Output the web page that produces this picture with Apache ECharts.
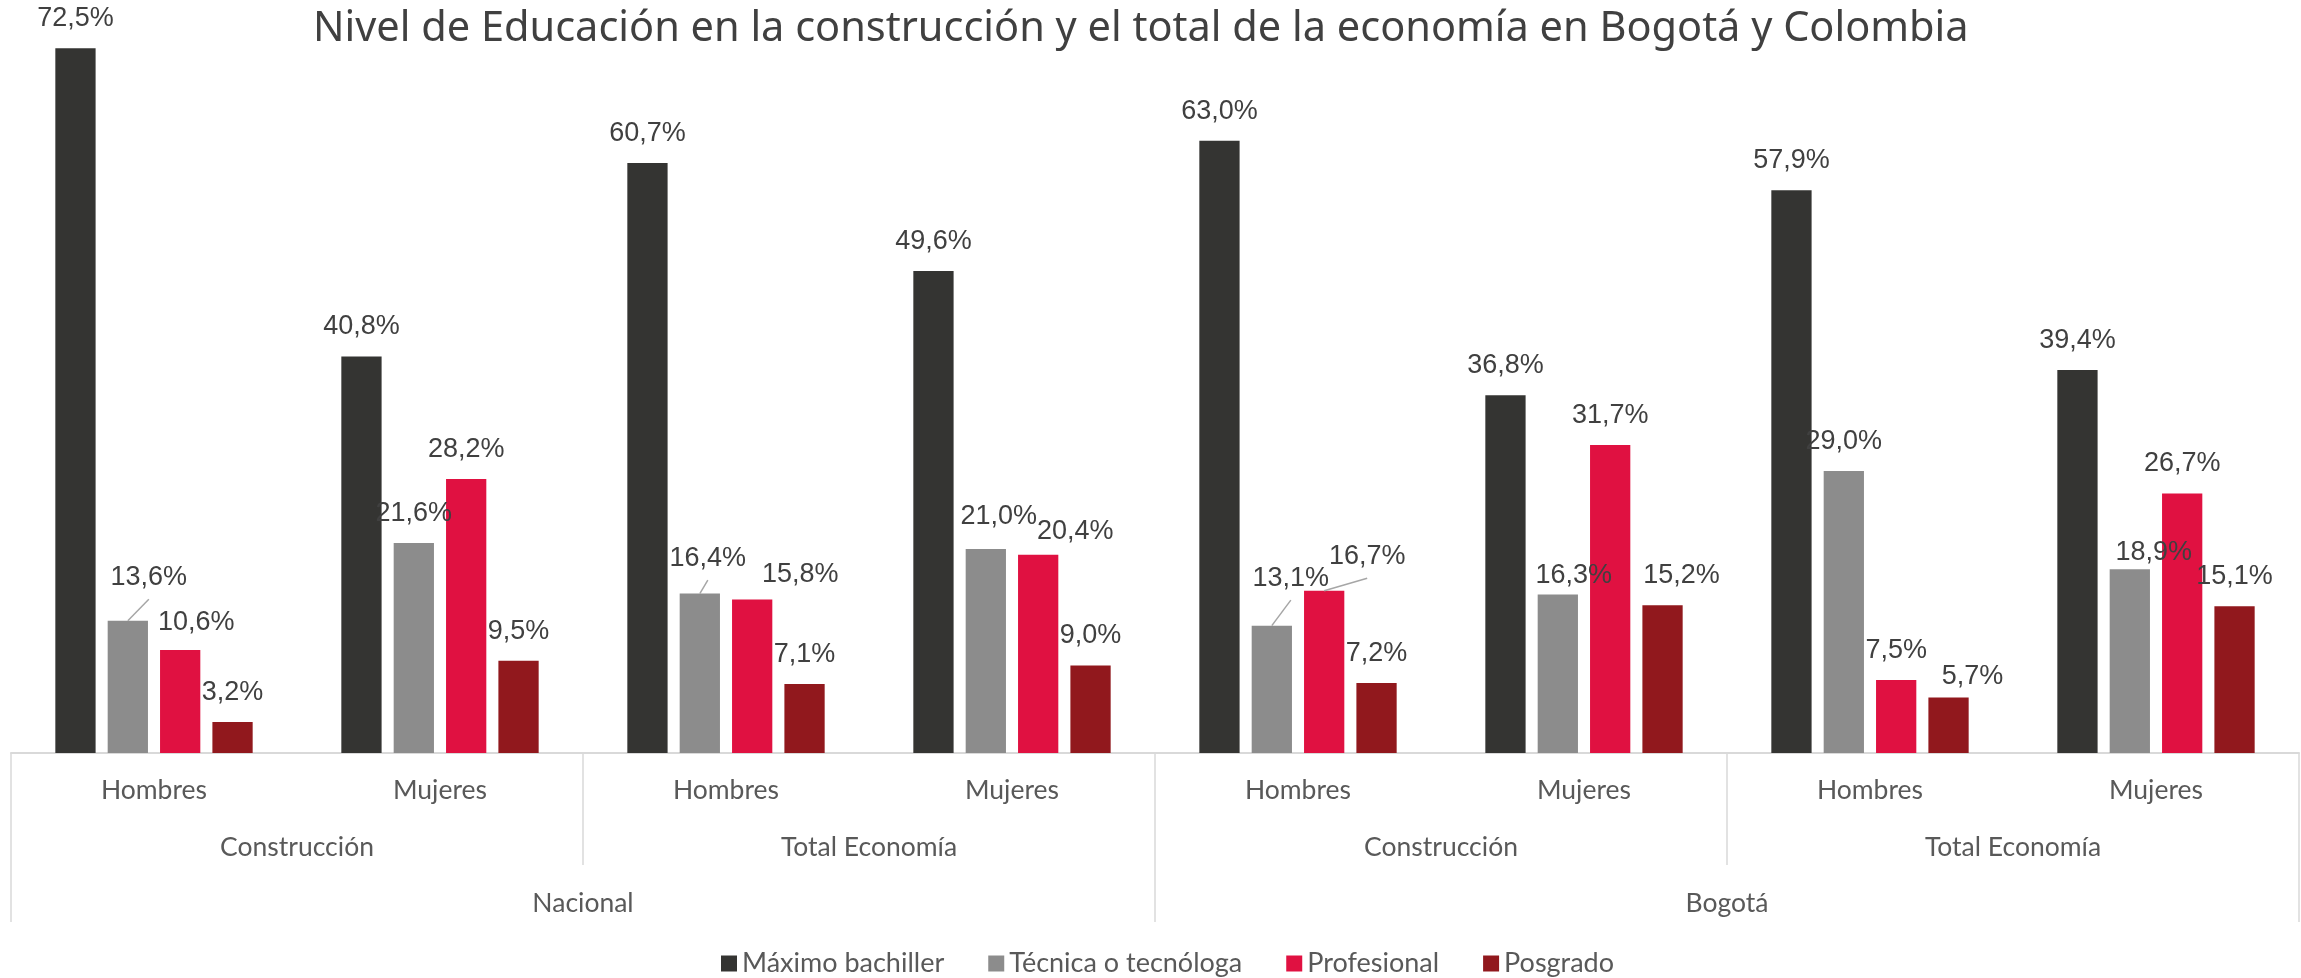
<!DOCTYPE html>
<html>
<head>
<meta charset="utf-8">
<title>Nivel de Educación</title>
<script src="https://cdn.jsdelivr.net/npm/echarts@6/dist/echarts.min.js"></script>
<style>
  html, body { margin: 0; padding: 0; background: #fff; }
  #chart { width: 2301px; height: 978px; }
</style>
</head>
<body>
<div id="chart"></div>
<script>
// categorias (3 niveles)
var genero = ['Hombres', 'Mujeres', 'Hombres', 'Mujeres', 'Hombres', 'Mujeres', 'Hombres', 'Mujeres'];
var sector = ['Construcción', 'Total Economía', 'Construcción', 'Total Economía'];
var territorio = ['Nacional', 'Bogotá'];

// series (%)
var nombres = ['Máximo bachiller', 'Técnica o tecnóloga', 'Profesional', 'Posgrado'];
var maximoBachiller = [72.5, 40.8, 60.7, 49.6, 63.0, 36.8, 57.9, 39.4];
var tecnica = [13.6, 21.6, 16.4, 21.0, 13.1, 16.3, 29.0, 18.9];
var profesional = [10.6, 28.2, 15.8, 20.4, 16.7, 31.7, 7.5, 26.7];
var posgrado = [3.2, 9.5, 7.1, 9.0, 7.2, 15.2, 5.7, 15.1];

// etiquetas movidas a mano (como en el excel)
var nudges = {
  'Técnica o tecnóloga': {0: [21, -14], 2: [8, -6], 3: [13, -3], 4: [19, -18], 5: [16, 10], 7: [24, 13]},
  'Profesional': {0: [16, 2], 2: [48, 5], 3: [37, 6], 4: [43, -5]},
  'Posgrado': {5: [19, 0], 6: [24, 8]}
};
var leaders = {'Técnica o tecnóloga': [0, 2, 4], 'Profesional': [4]};

var labelFont = "'Liberation Sans', Arial, sans-serif";
var axisFont = "Lato, 'Noto Sans', sans-serif";
var lineGrey = '#d9d9d9';
var catGap = 0.31, barGap = 0.3, labelDist = 16;

function serie(name, values, color) {
  var nd = nudges[name] || {};
  return {
    name: name,
    type: 'bar',
    barGap: barGap * 100 + '%',
    barCategoryGap: catGap * 100 + '%',
    itemStyle: { color: color },
    label: {
      show: true,
      position: 'top',
      distance: labelDist,
      fontFamily: labelFont,
      fontSize: 27,
      color: '#404040',
      formatter: function (p) {
        return p.value.toFixed(1).replace('.', ',') + '%';
      }
    },
    labelLayout: function (p) {
      var o = nd[p.dataIndex];
      return o ? { dx: o[0], dy: o[1] } : {};
    },
    data: values
  };
}

// lineas guia de las etiquetas movidas: [categoria, valor, serie, dx, dy]
var valores = [maximoBachiller, tecnica, profesional, posgrado];
var guias = [];
nombres.forEach(function (n, s) {
  (leaders[n] || []).forEach(function (i) {
    guias.push([i, valores[s][i], s, nudges[n][i][0], nudges[n][i][1]]);
  });
});

var myChart = echarts.init(document.getElementById('chart'));
var option = {
  animation: false,
  title: {
    text: 'Nivel de Educación en la construcción y el total de la economía en Bogotá y Colombia',
    left: 308,
    top: 3,
    textStyle: {
      fontFamily: "'Noto Sans', sans-serif",
      fontSize: 41.5,
      fontWeight: 'normal',
      color: '#404040'
    }
  },
  legend: {
    data: nombres,
    top: 945,
    left: 716,
    icon: 'rect',
    itemWidth: 16,
    itemHeight: 16,
    itemGap: 44,
    textStyle: { fontFamily: axisFont, fontSize: 27, color: '#595959' }
  },
  grid: { left: 11, right: 2, top: 24, bottom: 225 },
  xAxis: [
    {
      type: 'category',
      data: genero,
      position: 'bottom',
      axisLine: { show: true, lineStyle: { color: lineGrey, width: 2 } },
      axisTick: { show: false },
      axisLabel: { interval: 0, margin: 24, fontFamily: axisFont, fontSize: 26.5, color: '#595959' }
    },
    {
      type: 'category',
      data: sector,
      position: 'bottom',
      axisLine: { show: false },
      axisTick: { show: true, length: 112, lineStyle: { color: lineGrey, width: 1.5 } },
      axisLabel: { interval: 0, margin: 81, fontFamily: axisFont, fontSize: 26.5, color: '#595959' }
    },
    {
      type: 'category',
      data: territorio,
      position: 'bottom',
      axisLine: { show: false },
      axisTick: { show: true, length: 169, lineStyle: { color: lineGrey, width: 1.5 } },
      axisLabel: { interval: 0, margin: 137, fontFamily: axisFont, fontSize: 26.5, color: '#595959' }
    }
  ],
  yAxis: { type: 'value', min: 0, max: 75, show: false },
  series: [
    serie(nombres[0], maximoBachiller, '#343432'),
    serie(nombres[1], tecnica, '#8c8c8c'),
    serie(nombres[2], profesional, '#e01141'),
    serie(nombres[3], posgrado, '#91181d'),
    {
      type: 'custom',
      silent: true,
      z: 5,
      encode: { x: 0, y: 1 },
      data: guias,
      renderItem: function (params, api) {
        var top = api.coord([api.value(0), api.value(1)]);
        var band = api.size([1, 0])[0];
        var usable = band * (1 - catGap);
        var bw = usable / (4 + 3 * barGap);
        var x = top[0] - usable / 2 + bw / 2 + api.value(2) * bw * (1 + barGap);
        return {
          type: 'line',
          shape: {
            x1: x, y1: top[1],
            x2: x + api.value(3), y2: top[1] - labelDist + api.value(4) + 8.5
          },
          style: { stroke: '#a6a6a6', lineWidth: 1.5 }
        };
      }
    }
  ]
};
myChart.setOption(option);
</script>
</body>
</html>
